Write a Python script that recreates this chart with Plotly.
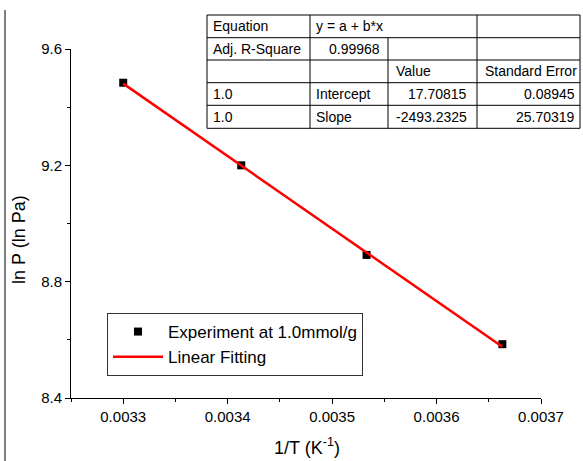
import plotly.graph_objects as go

# ---- data ----
inv_T = [0.003300, 0.003413, 0.003533, 0.003663]
ln_P = [9.484, 9.200, 8.892, 8.585]
fit_x = [0.003300, 0.003663]
fit_y = [9.481, 8.576]

x_ticks = [0.0033, 0.0034, 0.0035, 0.0036, 0.0037]
x_tick_labels = ["0.0033", "0.0034", "0.0035", "0.0036", "0.0037"]
y_ticks = [8.4, 8.8, 9.2, 9.6]
y_tick_labels = ["8.4", "8.8", "9.2", "9.6"]

table_rows = [
    ["Equation", "y = a + b*x", "", ""],
    ["Adj. R-Square", "0.99968", "", ""],
    ["", "", "Value", "Standard Error"],
    ["1.0", "Intercept", "17.70815", "0.08945"],
    ["1.0", "Slope", "-2493.2325", "25.70319"],
]

W, H = 583, 461
L, R, T, B = 71, 42, 49, 63
PW, PH = W - L - R, H - T - B
FONT = "Liberation Sans, Arial, sans-serif"


def px(xp):
    return (xp - L) / PW


def py(yp):
    return (H - B - yp) / PH


fig = go.Figure()
fig.add_trace(go.Scatter(
    x=inv_T, y=ln_P, mode="markers", name="Experiment at 1.0mmol/g",
    marker=dict(symbol="square", size=8, color="black"), legendrank=1,
    cliponaxis=False))
fig.add_trace(go.Scatter(
    x=fit_x, y=fit_y, mode="lines", name="Linear Fitting",
    line=dict(color="#ff0000", width=2.5), legendrank=2))

shapes = []
annotations = []

# table
col_x = [207, 310, 388, 477, 580]
row_y = [15, 37.7, 60, 82.7, 105.3, 128.3]
line = dict(color="black", width=1)
for yy in row_y:
    shapes.append(dict(type="line", xref="paper", yref="paper",
                       x0=px(col_x[0]), x1=px(col_x[-1]), y0=py(yy), y1=py(yy), line=line))
for ci, xx in enumerate(col_x):
    start = 1 if ci == 2 else 0
    shapes.append(dict(type="line", xref="paper", yref="paper",
                       x0=px(xx), x1=px(xx), y0=py(row_y[start]), y1=py(row_y[-1]), line=line))

right_cells = {(1, 1), (3, 2), (3, 3), (4, 2), (4, 3)}
for ri, row in enumerate(table_rows):
    yc = (row_y[ri] + row_y[ri + 1]) / 2
    for ci, txt in enumerate(row):
        if not txt:
            continue
        if (ri, ci) in right_cells:
            pad = 6 if ci == 1 else (8 if ci == 2 else 3)
            annotations.append(dict(text=txt, xref="paper", yref="paper",
                                    x=px(col_x[ci + 1] - pad), y=py(yc), xanchor="right",
                                    yanchor="middle", showarrow=False,
                                    font=dict(family=FONT, size=14, color="black")))
        else:
            pad = 6 if (ri == 2) else 4
            annotations.append(dict(text=txt, xref="paper", yref="paper",
                                    x=px(col_x[ci] + pad), y=py(yc), xanchor="left",
                                    yanchor="middle", showarrow=False,
                                    font=dict(family=FONT, size=14, color="black")))

# axis titles
annotations.append(dict(text="ln P (ln Pa)", xref="paper", yref="paper",
                        x=px(19), y=py(240), xanchor="center", yanchor="middle",
                        textangle=-90, showarrow=False,
                        font=dict(family=FONT, size=18, color="black")))
annotations.append(dict(text="1/T (K<sup>-1</sup>)", xref="paper", yref="paper",
                        x=px(307), y=py(460), xanchor="center", yanchor="bottom",
                        showarrow=False,
                        font=dict(family=FONT, size=18, color="black")))

# frame line at left edge of the image
shapes.append(dict(type="line", xref="paper", yref="paper",
                   x0=px(5), x1=px(5), y0=py(10), y1=py(H), line=dict(color="black", width=1)))

fig.update_layout(
    width=W, height=H,
    margin=dict(l=L, r=R, t=T, b=B, autoexpand=False),
    paper_bgcolor="white", plot_bgcolor="white",
    font=dict(family=FONT, size=15, color="black"),
    shapes=shapes, annotations=annotations,
    legend=dict(x=px(107), y=py(313), xanchor="left", yanchor="top",
                bordercolor="#333333", borderwidth=1, bgcolor="white",
                font=dict(family=FONT, size=17, color="black"),
                tracegroupgap=0, itemwidth=50),
    xaxis=dict(range=[0.00325, 0.0037], tickvals=x_ticks, ticktext=x_tick_labels,
               showgrid=False, zeroline=False, showline=True, linecolor="black", linewidth=1,
               ticks="outside", ticklen=5, tickcolor="black", tickfont=dict(size=15),
               automargin=False,
               minor=dict(tickvals=[0.00325, 0.00335, 0.00345, 0.00355, 0.00365],
                          ticks="outside", ticklen=3, tickcolor="black")),
    yaxis=dict(range=[8.4, 9.6], tickvals=y_ticks, ticktext=y_tick_labels,
               showgrid=False, zeroline=False, showline=True, linecolor="black", linewidth=1,
               ticks="outside", ticklen=5, tickcolor="black", tickfont=dict(size=15),
               automargin=False,
               minor=dict(tickvals=[8.6, 9.0, 9.4], ticks="outside", ticklen=3, tickcolor="black")),
)

fig.write_html("out.html", config={"displayModeBar": False},
               post_script="document.body.style.margin='0';")
